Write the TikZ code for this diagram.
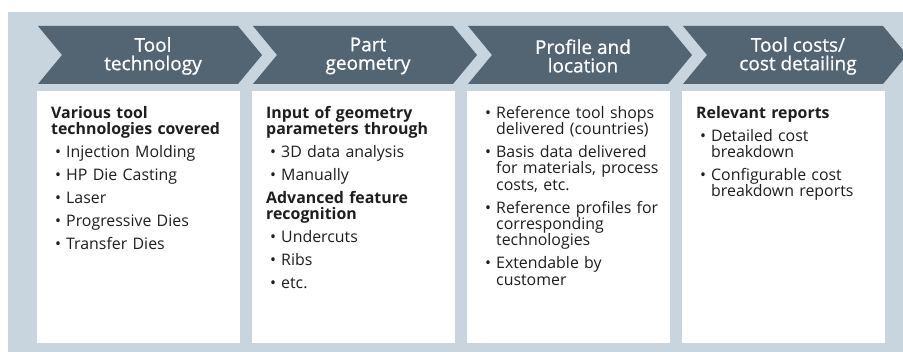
\documentclass[tikz,border=0pt]{standalone}
\usepackage{fontspec}
\setmainfont{Open Sans}
\newfontfamily\headfont[FakeBold=0.8]{Open Sans}
\usetikzlibrary{positioning}
\definecolor{bgcolor}{RGB}{200,213,222}
\definecolor{chevcolor}{RGB}{83,100,114}
\definecolor{textcolor}{RGB}{30,30,30}

% bullet lines inside the cards
\newcommand{\firstitem}[1]{\hangindent=15pt\hangafter=1\noindent\makebox[15pt][l]{\hspace{4pt}\textbullet}#1\par}
\newcommand{\bitem}[1]{\vspace{6.7pt}\firstitem{#1}}
\newcommand{\bhead}[1]{\vspace{6.7pt}\noindent\textbf{#1}\par}

\begin{document}
\begin{tikzpicture}[x=1pt, y=-1pt,
        chevron/.style={fill=chevcolor},
        head/.style={text=white, align=center, inner sep=0pt, font=\headfont\fontsize{19}{18.5}\selectfont},
        card/.style={fill=white, anchor=north west, minimum width=203pt, minimum height=252pt, inner sep=0pt},
        body/.style={anchor=north west, text width=186pt, align=left, inner sep=0pt, text=textcolor, font=\fontsize{15.9}{16.3}\selectfont}
    ]
        \useasboundingbox (0,0) rectangle (903,352);
        \clip (0,0) rectangle (903,352);

        % Background
        \fill[bgcolor] (8,12) rectangle (903,352);

        % Chevrons
        \fill[chevron] (38,26) -- (238,26) -- (262,55) -- (238,84) -- (38,84) -- (62,55) -- cycle;
        \fill[chevron] (253,26) -- (453,26) -- (477,55) -- (453,84) -- (253,84) -- (277,55) -- cycle;
        \fill[chevron] (468,26) -- (668,26) -- (692,55) -- (668,84) -- (468,84) -- (492,55) -- cycle;
        \fill[chevron] (683,26) -- (883,26) -- (907,55) -- (883,84) -- (683,84) -- (707,55) -- cycle;

        \node[head] (tooltech) at (153,56) {Tool\\technology};
        \node[head] (partgeo) at (368,56) {Part\\geometry};
        \node[head] (profile) at (583,56) {Profile and\\location};
        \node[head] (toolcost) at (798,56) {Tool costs/\\cost detailing};

        % Cards
        \node[card] (card1) at (37,91) {};
        \node[card] (card2) at (252,91) {};
        \node[card] (card3) at (467,91) {};
        \node[card] (card4) at (682,91) {};

        % Tool technology
        \node[body] (text1) at ([xshift=14pt, yshift=-15pt]card1.north west) {%
            \noindent\textbf{Various tool\newline technologies covered}\par
            \bitem{Injection Molding}
            \bitem{HP Die Casting}
            \bitem{Laser}
            \bitem{Progressive Dies}
            \bitem{Transfer Dies}};

        % Part geometry
        \node[body] (text2) at ([xshift=14pt, yshift=-15pt]card2.north west) {%
            \noindent\textbf{Input of geometry\newline parameters through}\par
            \bitem{3D data analysis}
            \bitem{Manually}
            \bhead{Advanced feature\newline recognition}
            \bitem{Undercuts}
            \bitem{Ribs}
            \bitem{etc.}};

        % Profile and location
        \node[body] (text3) at ([xshift=14pt, yshift=-15pt]card3.north west) {%
            \firstitem{Reference tool shops\newline delivered (countries)}
            \bitem{Basis data delivered\newline for materials, process\newline costs, etc.}
            \bitem{Reference profiles for\newline corresponding\newline technologies}
            \bitem{Extendable by\newline customer}};

        % Tool costs
        \node[body] (text4) at ([xshift=14pt, yshift=-15pt]card4.north west) {%
            \noindent\textbf{Relevant reports}\par
            \bitem{Detailed cost\newline breakdown}
            \bitem{Configurable cost\newline breakdown reports}};

    \end{tikzpicture}
\end{document}
